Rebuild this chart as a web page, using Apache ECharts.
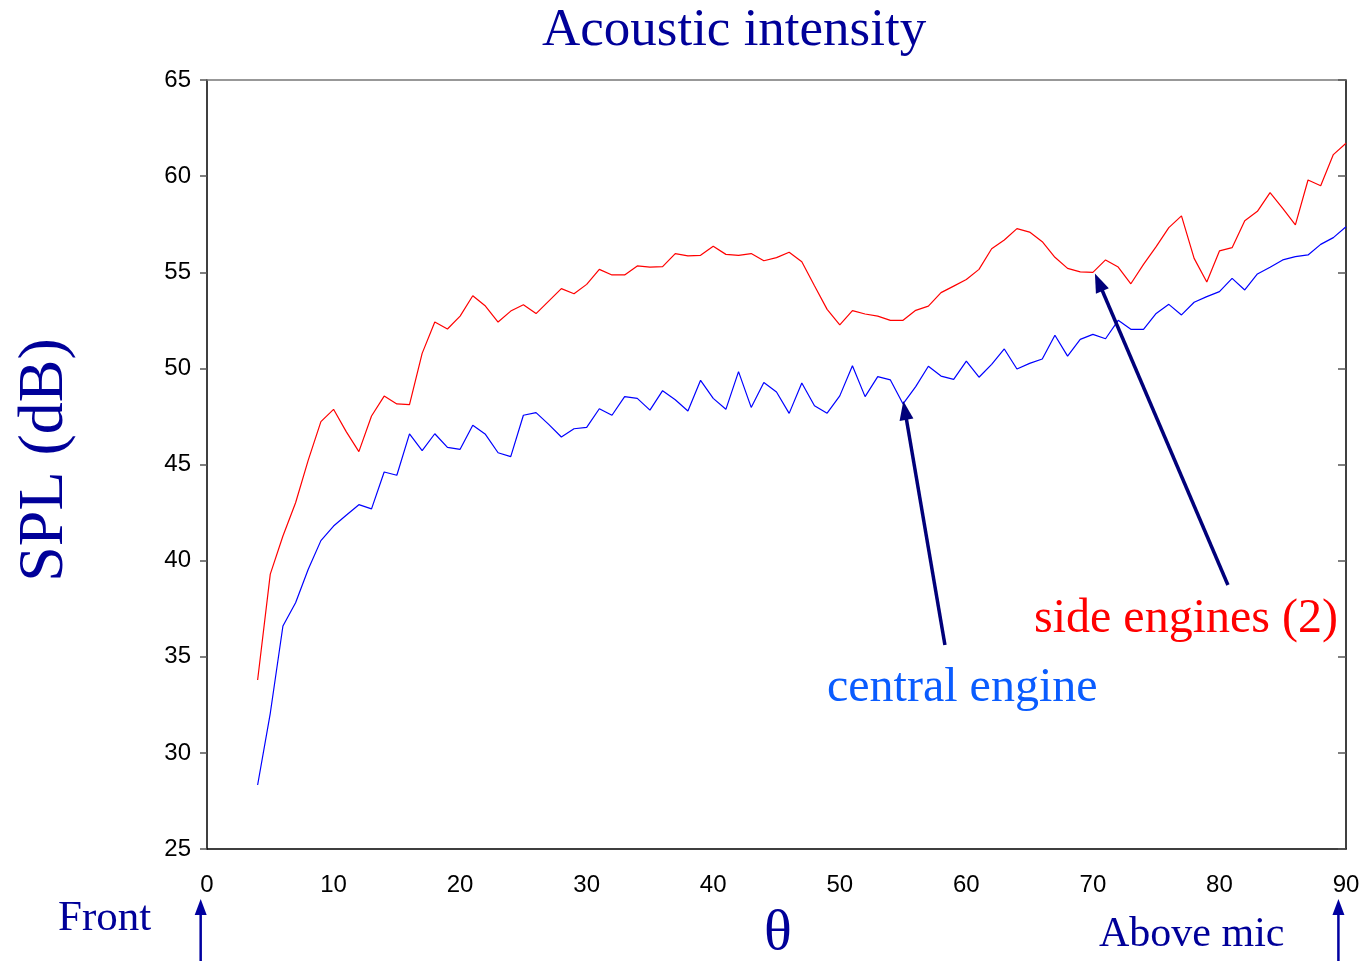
<!DOCTYPE html>
<html>
<head>
<meta charset="utf-8">
<script src="https://cdn.jsdelivr.net/npm/echarts@6/dist/echarts.min.js"></script>
<style>
html,body{margin:0;padding:0;background:#fff;}
#chart{width:1363px;height:961px;}
</style>
</head>
<body>
<div id="chart"></div>
<script>
const angles = [4,5,6,7,8,9,10,11,12,13,14,15,16,17,18,19,20,21,22,23,24,25,26,27,28,29,30,31,32,33,34,35,36,37,38,39,40,41,42,43,44,45,46,47,48,49,50,51,52,53,54,55,56,57,58,59,60,61,62,63,64,65,66,67,68,69,70,71,72,73,74,75,76,77,78,79,80,81,82,83,84,85,86,87,88,89,90];
const sideEngines = [33.79,39.30,41.28,43.01,45.23,47.23,47.87,46.71,45.67,47.52,48.56,48.15,48.11,50.78,52.41,52.05,52.72,53.78,53.24,52.41,52.98,53.31,52.85,53.50,54.15,53.88,54.37,55.15,54.86,54.86,55.33,55.27,55.29,55.97,55.85,55.88,56.35,55.93,55.88,55.97,55.60,55.76,56.04,55.55,54.30,53.07,52.26,53.00,52.83,52.72,52.50,52.50,53.02,53.24,53.94,54.28,54.62,55.15,56.22,56.68,57.27,57.09,56.59,55.78,55.20,55.02,54.99,55.64,55.27,54.40,55.41,56.33,57.32,57.93,55.72,54.49,56.11,56.28,57.68,58.17,59.14,58.32,57.46,59.80,59.50,61.12,61.71];
const centralEngine = [28.33,32.06,36.60,37.81,39.55,41.04,41.80,42.36,42.91,42.69,44.61,44.44,46.59,45.72,46.60,45.89,45.79,47.04,46.57,45.61,45.41,47.56,47.70,47.09,46.43,46.86,46.93,47.90,47.56,48.53,48.44,47.83,48.84,48.37,47.78,49.38,48.44,47.87,49.83,47.97,49.26,48.77,47.66,49.24,48.06,47.67,48.57,50.14,48.53,49.57,49.40,48.15,49.05,50.11,49.60,49.43,50.38,49.54,50.21,51.01,49.97,50.26,50.49,51.72,50.64,51.51,51.77,51.54,52.50,52.03,52.03,52.86,53.33,52.78,53.44,53.73,53.99,54.68,54.08,54.91,55.26,55.64,55.81,55.90,56.45,56.80,57.37];
const xTicks = [0,10,20,30,40,50,60,70,80,90];
const yTicks = [25,30,35,40,45,50,55,60,65];
// annotation arrows [tail, head] in data coordinates
const arrowCentral = [[58.31,35.61],[55.02,48.30]];
const arrowSide = [[80.67,38.73],[70.16,54.94]];
const arrowFront = [[-0.5,19.0],[-0.5,22.4]];
const arrowAbove = [[89.4,19.0],[89.4,22.4]];

const serif = '"Liberation Serif","Times New Roman",serif';
const sans = '"Liberation Sans",Arial,sans-serif';
const navy = '#000099';

const chart = echarts.init(document.getElementById('chart'));
const pair = a => angles.map((x,i)=>[x,a[i]]);

chart.setOption({
  animation:false,
  backgroundColor:'#fff',
  title:{text:'Acoustic intensity',left:537,top:0,textStyle:{fontFamily:serif,fontSize:53,fontWeight:'normal',color:navy}},
  grid:{left:207,right:17,top:80,bottom:112,containLabel:false},
  xAxis:[{type:'value',min:xTicks[0],max:xTicks[xTicks.length-1],interval:10,
    axisLine:{show:true,onZero:false,lineStyle:{color:'#000',width:1.5}},
    axisTick:{show:false},splitLine:{show:false},
    axisLabel:{fontFamily:sans,fontSize:24,color:'#000',margin:24}},
   {type:'value',position:'top',min:0,max:90,
    axisLine:{show:true,onZero:false,lineStyle:{color:'#777',width:1.5}},
    axisTick:{show:false},axisLabel:{show:false},splitLine:{show:false}}],
  yAxis:[{type:'value',min:yTicks[0],max:yTicks[yTicks.length-1],interval:5,
    axisLine:{show:true,onZero:false,lineStyle:{color:'#000',width:1.5}},
    axisTick:{show:true,length:7,lineStyle:{color:'#555',width:1.5}},
    splitLine:{show:false},
    axisLabel:{fontFamily:sans,fontSize:24,color:'#000',margin:16}},
   {type:'value',position:'right',min:25,max:65,interval:5,
    axisLine:{show:true,onZero:false,lineStyle:{color:'#000',width:1.5}},
    axisTick:{show:true,inside:true,length:8,lineStyle:{color:'#555',width:1.5}},
    axisLabel:{show:false},splitLine:{show:false}}],
  series:[
    {name:'side engines (2)',type:'line',data:pair(sideEngines),showSymbol:false,
     lineStyle:{color:'#ff0000',width:1.2},itemStyle:{color:'#ff0000'}},
    {name:'central engine',type:'line',data:pair(centralEngine),showSymbol:false,
     lineStyle:{color:'#0000ff',width:1.2},itemStyle:{color:'#0000ff'}}
  ]
});

function px(p){return chart.convertToPixel({gridIndex:0},p);}
function arrow(a,lw,hl,hw,color){
  const p0=px(a[0]), p1=px(a[1]);
  const dx=p1[0]-p0[0], dy=p1[1]-p0[1], L=Math.hypot(dx,dy);
  const ux=dx/L, uy=dy/L, nx=-uy, ny=ux;
  const bx=p1[0]-ux*hl, by=p1[1]-uy*hl;
  return [
    {type:'line',shape:{x1:p0[0],y1:p0[1],x2:bx+ux*2,y2:by+uy*2},style:{stroke:color,lineWidth:lw},z:100},
    {type:'polygon',shape:{points:[[p1[0],p1[1]],[bx+nx*hw/2,by+ny*hw/2],[bx-nx*hw/2,by-ny*hw/2]]},style:{fill:color},z:100}
  ];
}
const g = [];
g.push(...arrow(arrowCentral,3.5,19,14,'#00007a'));
g.push(...arrow(arrowSide,3.5,19,14,'#00007a'));
g.push(...arrow(arrowFront,2.5,16,12,'#0000a0'));
g.push(...arrow(arrowAbove,2.5,16,12,'#0000a0'));
g.push({type:'text',x:45,y:460,rotation:Math.PI/2,style:{text:'SPL (dB)',font:'64px '+serif,fill:navy,textAlign:'center',textVerticalAlign:'middle'},z:100});
g.push({type:'text',x:778,y:934,style:{text:'θ',font:'58px '+serif,fill:navy,textAlign:'center',textVerticalAlign:'middle'},z:100});
g.push({type:'text',x:58,y:919,style:{text:'Front',font:'43px '+serif,fill:navy,textAlign:'left',textVerticalAlign:'middle'},z:100});
g.push({type:'text',x:1099,y:935,style:{text:'Above mic',font:'42px '+serif,fill:navy,textAlign:'left',textVerticalAlign:'middle'},z:100});
g.push({type:'text',x:827,y:688,style:{text:'central engine',font:'48px '+serif,fill:'#0a5cff',textAlign:'left',textVerticalAlign:'middle'},z:100});
g.push({type:'text',x:1034,y:619,style:{text:'side engines (2)',font:'48px '+serif,fill:'#ff0000',textAlign:'left',textVerticalAlign:'middle'},z:100});
chart.setOption({graphic:g});
</script>
</body>
</html>
